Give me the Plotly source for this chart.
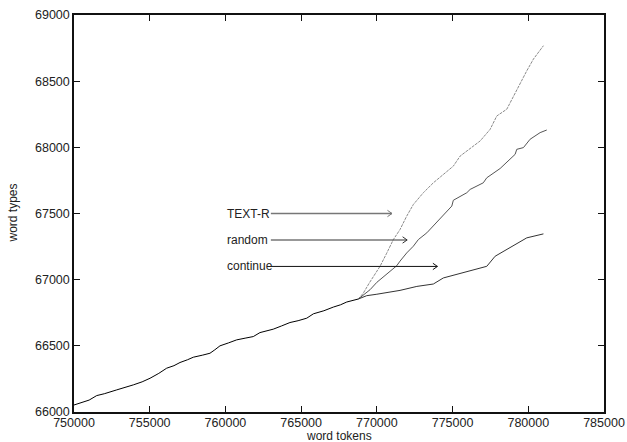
import plotly.graph_objects as go

# ---- data ----
main_x = [750000, 750300, 750730, 751000, 751500, 752000, 752820, 753400, 753920, 754500,
          755020, 755600, 756120, 756600, 757000, 757500, 757880, 758500, 758980, 759300,
          759640, 760200, 760740, 761300, 761840, 762280, 762700, 763160, 763700, 764260,
          764800, 765370, 765810, 766500, 767130, 767600, 768010, 768400, 768780]
main_y = [66053, 66065, 66078, 66090, 66124, 66138, 66167, 66185, 66205, 66228,
          66255, 66292, 66331, 66350, 66374, 66395, 66414, 66430, 66444, 66470,
          66500, 66522, 66545, 66558, 66570, 66600, 66610, 66626, 66650, 66676,
          66690, 66709, 66742, 66765, 66793, 66810, 66831, 66842, 66854]

textr_x = [768780, 769110, 769500, 769900, 770210, 770650, 771090, 771530, 771970, 772410,
           773070, 773730, 774390, 775050, 775500, 776270, 776820, 777480, 777920, 778580,
           779240, 779900, 780340, 781000]
textr_y = [66854, 66899, 66975, 67045, 67101, 67200, 67303, 67379, 67480, 67568,
           67657, 67732, 67795, 67858, 67934, 67998, 68048, 68136, 68237, 68288,
           68439, 68578, 68667, 68768]

random_x = [768780, 769200, 769550, 770000, 770500, 771000, 771310, 771530, 771970, 772410,
            772740, 773300, 773510, 774170, 774950, 775050, 775940, 776160, 777030, 777260,
            778140, 779130, 779240, 779680, 780120, 780780, 781220]
random_y = [66854, 66895, 66924, 66980, 67030, 67075, 67105, 67140, 67202, 67253,
            67303, 67354, 67379, 67455, 67556, 67600, 67657, 67682, 67732, 67770,
            67840, 67947, 67985, 67998, 68061, 68111, 68131]

cont_x = [768780, 769330, 770000, 770700, 771530, 772640, 773730, 774390, 775500, 776600,
          777260, 777810, 778800, 779900, 781000]
cont_y = [66854, 66879, 66890, 66905, 66919, 66949, 66967, 67013, 67045, 67081,
          67101, 67177, 67240, 67316, 67346]

label_text = ["TEXT-R", "random", "continue"]
label_x = [760000, 760000, 760000]
label_y = [67500, 67300, 67100]
arrow_x0 = [763000, 763000, 763000]
arrow_x1 = [771000, 772000, 774000]

x_ticks = [750000, 755000, 760000, 765000, 770000, 775000, 780000, 785000]
y_ticks = [66000, 66500, 67000, 67500, 68000, 68500, 69000]
x_title = "word tokens"
y_title = "word types"

# ---- styles ----
FONT = "Liberation Sans, Arial, sans-serif"
arrow_colors = ["#777777", "#333333", "#111111"]
arrow_widths = [1.6, 1.1, 1.0]
head_dx, head_dy = 300, 24

fig = go.Figure()
fig.add_trace(go.Scatter(x=main_x, y=main_y, mode="lines",
                         line=dict(color="#000000", width=1)))
fig.add_trace(go.Scatter(x=textr_x, y=textr_y, mode="lines",
                         line=dict(color="#8a8a8a", width=1, dash="3px,1px")))
fig.add_trace(go.Scatter(x=random_x, y=random_y, mode="lines",
                         line=dict(color="#555555", width=1)))
fig.add_trace(go.Scatter(x=cont_x, y=cont_y, mode="lines",
                         line=dict(color="#333333", width=1)))

for i in range(len(label_text)):
    x0, x1, y = arrow_x0[i], arrow_x1[i], label_y[i]
    fig.add_trace(go.Scatter(x=[x0, x1], y=[y, y], mode="lines",
                             line=dict(color=arrow_colors[i], width=arrow_widths[i])))
    fig.add_trace(go.Scatter(x=[x1 - head_dx, x1, x1 - head_dx],
                             y=[y + head_dy, y, y - head_dy], mode="lines",
                             line=dict(color=arrow_colors[i], width=1)))
    fig.add_annotation(x=label_x[i], y=y, text=label_text[i], showarrow=False,
                       xanchor="left", yanchor="middle",
                       font=dict(family=FONT, size=12, color="#222222"))

# axis titles as annotations (fine positioning)
fig.add_annotation(xref="paper", yref="paper", x=0.5, y=0, yshift=-24,
                   xanchor="center", yanchor="middle", text=x_title, showarrow=False,
                   borderpad=0, font=dict(family=FONT, size=12, color="#222222"))
fig.add_annotation(xref="paper", yref="paper", x=0, y=0.5, xshift=-62,
                   xanchor="center", yanchor="middle", textangle=-90, text=y_title,
                   showarrow=False, font=dict(family=FONT, size=12, color="#222222"))

axis_common = dict(showline=True, linecolor="#111111", linewidth=1.5, mirror="ticks",
                   ticks="inside", ticklen=6, tickwidth=1, tickcolor="#111111",
                   showgrid=False, zeroline=False, automargin=False,
                   tickfont=dict(family=FONT, size=12.5, color="#222222"))

fig.update_layout(
    width=627, height=442,
    margin=dict(l=74, r=23, t=15, b=30),
    paper_bgcolor="white", plot_bgcolor="white",
    showlegend=False,
    xaxis=dict(range=[750000, 785000], tickvals=x_ticks, tickformat="d",
               ticklabelstandoff=-2, **axis_common),
    yaxis=dict(range=[66000, 69000], tickvals=y_ticks, tickformat="d", **axis_common),
)

fig.write_html("out.html")
